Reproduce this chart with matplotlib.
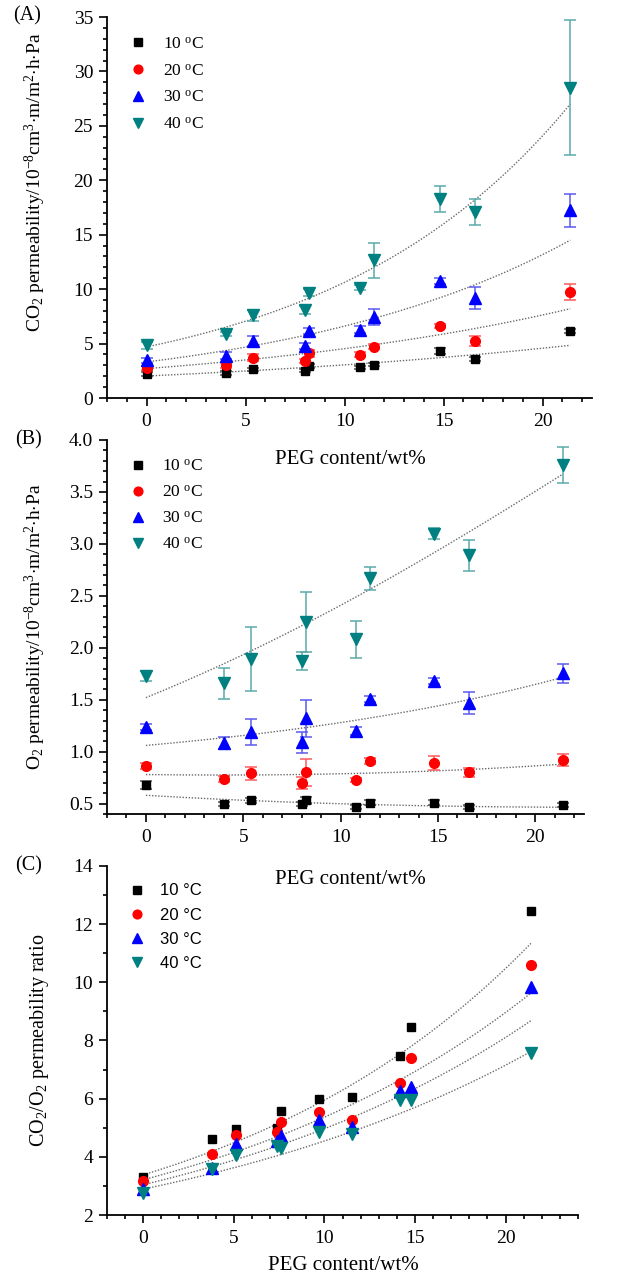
import numpy as np
import matplotlib
matplotlib.use('Agg')
import matplotlib.pyplot as plt
from matplotlib.lines import Line2D
from matplotlib.ticker import MultipleLocator, FormatStrFormatter

plt.rcParams['font.family'] = ['Liberation Serif', 'DejaVu Serif']
plt.rcParams['mathtext.fontset'] = 'custom'
plt.rcParams['mathtext.rm'] = 'Liberation Serif'
plt.rcParams['mathtext.it'] = 'Liberation Serif:italic'
plt.rcParams['mathtext.bf'] = 'Liberation Serif:bold'

# ---------------- data ----------------
temps = ['10', '20', '30', '40']

peg_ab = [0, 4.0, 5.4, 8.0, 8.2, 10.8, 11.5, 14.8, 16.6, 21.4]

co2_10 = [2.20, 2.30, 2.64, 2.52, 2.94, 2.82, 3.07, 4.32, 3.56, 6.13]
co2_20 = [2.76, 3.00, 3.71, 3.37, 4.10, 3.98, 4.72, 6.59, 5.21, 9.75]
co2_30 = [3.45, 3.90, 5.21, 4.78, 6.16, 6.28, 7.45, 10.73, 9.19, 17.25]
co2_40 = [4.84, 5.85, 7.60, 8.06, 9.69, 10.15, 12.66, 18.30, 17.10, 28.50]
co2_err_10 = [0.15, 0.15, 0.15, 0.15, 0.20, 0.15, 0.15, 0.30, 0.20, 0.20]
co2_err_20 = [0.20, 0.20, 0.30, 0.20, 0.30, 0.20, 0.20, 0.20, 0.45, 0.75]
co2_err_30 = [0.20, 0.30, 0.45, 0.30, 0.30, 0.30, 0.75, 0.30, 1.05, 1.50]
co2_err_40 = [0.30, 0.20, 0.50, 0.35, 0.35, 0.20, 1.60, 1.20, 1.20, 6.20]

o2_10 = [0.68, 0.50, 0.53, 0.50, 0.53, 0.47, 0.51, 0.51, 0.47, 0.49]
o2_20 = [0.865, 0.735, 0.79, 0.70, 0.80, 0.725, 0.91, 0.89, 0.80, 0.92]
o2_30 = [1.24, 1.085, 1.19, 1.09, 1.32, 1.20, 1.505, 1.68, 1.47, 1.755]
o2_40 = [1.73, 1.66, 1.89, 1.87, 2.25, 2.08, 2.67, 3.10, 2.89, 3.76]
o2_err_10 = [0.04, 0.02, 0.02, 0.02, 0.03, 0.02, 0.02, 0.02, 0.02, 0.02]
o2_err_20 = [0.03, 0.03, 0.06, 0.06, 0.13, 0.02, 0.03, 0.07, 0.04, 0.06]
o2_err_30 = [0.03, 0.06, 0.125, 0.10, 0.175, 0.04, 0.03, 0.03, 0.105, 0.09]
o2_err_40 = [0.05, 0.15, 0.31, 0.085, 0.29, 0.18, 0.11, 0.05, 0.15, 0.17]

peg_c = [0, 3.8, 5.1, 7.4, 7.6, 9.7, 11.5, 14.2, 14.8, 21.4]
ratio_10 = [3.30, 4.63, 4.97, 5.00, 5.57, 5.98, 6.06, 7.45, 8.48, 12.45]
ratio_20 = [3.17, 4.10, 4.75, 4.84, 5.19, 5.53, 5.25, 6.53, 7.41, 10.60]
ratio_30 = [2.88, 3.63, 4.45, 4.53, 4.72, 5.25, 5.01, 6.27, 6.39, 9.85]
ratio_40 = [2.77, 3.58, 4.07, 4.36, 4.29, 4.87, 4.79, 5.96, 5.94, 7.58]

# fitted trend curves, values read at x = 0, 10.7, 21.4
fit_x = [0, 10.7, 21.4]
fit_a = {'10': [2.02, 3.13, 4.84], '20': [2.70, 4.70, 8.20],
         '30': [3.31, 6.93, 14.5], '40': [4.69, 11.25, 27.0]}
fit_b = {'10': [0.58, 0.495, 0.465], '20': [0.78, 0.79, 0.88],
         '30': [1.06, 1.30, 1.715], '40': [1.52, 2.48, 3.67]}
fit_c = {'10': [3.38, 6.19, 11.34], '20': [3.21, 5.56, 9.63],
         '30': [3.04, 5.14, 8.68], '40': [2.89, 4.69, 7.62]}

# ---------------- style ----------------
colors = {'10': '#000000', '20': '#FF0000', '30': '#0000FF', '40': '#008080'}
ecolors = {'10': '#555555', '20': '#FF5A5A', '30': '#5A5AF0', '40': '#5AAAAA'}
markers = {'10': 's', '20': 'o', '30': '^', '40': 'v'}
msizes = {'10': 6.0, '20': 7.0, '30': 8.0, '40': 8.0}

W, H = 618, 1278
fig = plt.figure(figsize=(W / 100, H / 100), dpi=100)


def px_axes(left, top, right, bottom):
    return fig.add_axes([left / W, 1 - bottom / H, (right - left) / W, (bottom - top) / H])


def style_axes(ax, xmin, xmax, ymin, ymax, ymaj, ymin_step):
    ax.set_xlim(xmin, xmax)
    ax.set_ylim(ymin, ymax)
    for s in ['top', 'right']:
        ax.spines[s].set_visible(False)
    for s in ['left', 'bottom']:
        ax.spines[s].set_linewidth(1.3)
    ax.xaxis.set_major_locator(MultipleLocator(5))
    ax.xaxis.set_minor_locator(MultipleLocator(1))
    ax.yaxis.set_major_locator(MultipleLocator(ymaj))
    ax.yaxis.set_minor_locator(MultipleLocator(ymin_step))
    ax.tick_params(which='both', direction='out', width=1.2, labelsize=14)
    ax.tick_params(which='major', length=6)
    ax.tick_params(which='minor', length=3)
    ax.tick_params(axis='x', pad=5)
    ax.tick_params(axis='y', pad=4)


def fit_curve(ax, vals):
    coef = np.polyfit(fit_x, np.log(vals), 2)
    xx = np.linspace(fit_x[0], fit_x[-1], 200)
    ax.plot(xx, np.exp(np.polyval(coef, xx)), ls=(0, (1, 1.2)), color='#6a6a6a',
            lw=1.0, zorder=1)


def err_panel(ax, x, series, errs, fits):
    for t, y, e in zip(temps, series, errs):
        ax.errorbar(x, y, yerr=e, fmt='none', ecolor=ecolors[t], elinewidth=1.1,
                    capsize=4, capthick=1.1, zorder=2)
        ax.plot(x, y, ls='none', marker=markers[t], color=colors[t],
                ms=msizes[t], zorder=3)
        fit_curve(ax, fits[t])


def add_legend(ax, anchor, fontsize, family, spacing, deg_math=True):
    handles = []
    for t in temps:
        lab = (t + r' $^{\rm o}$C') if deg_math else (t + ' °C')
        handles.append(Line2D([], [], ls='none', marker=markers[t], color=colors[t],
                              ms=msizes[t] * 0.9, label=lab))
    leg = ax.legend(handles=handles, loc='upper left', bbox_to_anchor=anchor,
                    frameon=False, handlelength=1.0,
                    handletextpad=0.9, labelspacing=spacing, borderpad=0,
                    borderaxespad=0, prop={'family': family, 'size': fontsize})
    return leg


# ---------------- panel A ----------------
axA = px_axes(107, 17, 592, 398)
style_axes(axA, -2, 22.5, 0, 35, 5, 1)
err_panel(axA, peg_ab, [co2_10, co2_20, co2_30, co2_40],
          [co2_err_10, co2_err_20, co2_err_30, co2_err_40], fit_a)
add_legend(axA, (0.047, 0.95), 12.5, ['Liberation Serif'], 0.62)

# ---------------- panel B ----------------
axB = px_axes(107, 440, 584, 814)
style_axes(axB, -2, 22.5, 0.4, 4.0, 0.5, 0.1)
err_panel(axB, peg_ab, [o2_10, o2_20, o2_30, o2_40],
          [o2_err_10, o2_err_20, o2_err_30, o2_err_40], fit_b)
axB.yaxis.set_major_formatter(FormatStrFormatter('%.1f'))
add_legend(axB, (0.047, 0.95), 12.5, ['Liberation Serif'], 0.57)

# ---------------- panel C ----------------
axC = px_axes(107, 866, 578, 1215)
style_axes(axC, -2, 24, 2, 14, 2, 1)
for t, y in zip(temps, [ratio_10, ratio_20, ratio_30, ratio_40]):
    axC.plot(peg_c, y, ls='none', marker=markers[t], color=colors[t],
             ms=msizes[t], zorder=3)
    fit_curve(axC, fit_c[t])
add_legend(axC, (0.045, 0.95), 12, ['Liberation Sans'], 0.55, deg_math=False)

# ---------------- labels ----------------
fig.text(350 / W, 1 - 460 / H, 'PEG content/wt%', ha='center', va='center', fontsize=15)
fig.text(350 / W, 1 - 880 / H, 'PEG content/wt%', ha='center', va='center', fontsize=15)
fig.text(343 / W, 1 - 1265 / H, 'PEG content/wt%', ha='center', va='center', fontsize=15)

fig.text(35 / W, 1 - 182 / H,
         r'CO$_2$ permeability/10$^{-8}$cm$^3$$\cdot$m/m$^2$$\cdot$h$\cdot$Pa',
         rotation=90, ha='center', va='center', fontsize=14)
fig.text(35 / W, 1 - 627 / H,
         r'O$_2$ permeability/10$^{-8}$cm$^3$$\cdot$m/m$^2$$\cdot$h$\cdot$Pa',
         rotation=90, ha='center', va='center', fontsize=14)
fig.text(40 / W, 1 - 1040 / H, r'CO$_2$/O$_2$ permeability ratio',
         rotation=90, ha='center', va='center', fontsize=14.5)

fig.text(27 / W, 1 - 16 / H, '(A)', ha='center', va='center', fontsize=14.5)
fig.text(29 / W, 1 - 440 / H, '(B)', ha='center', va='center', fontsize=14.5)
fig.text(29 / W, 1 - 866 / H, '(C)', ha='center', va='center', fontsize=14.5)

fig.savefig('out.png', dpi=100)
